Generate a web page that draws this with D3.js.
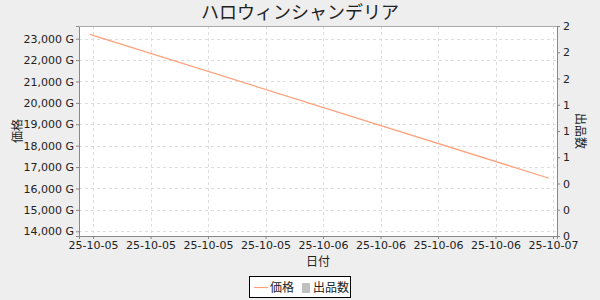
<!DOCTYPE html>
<html>
<head>
<meta charset="utf-8">
<script src="https://cdn.jsdelivr.net/npm/d3@7"></script>
<style>
  body { margin: 0; background: #eeeeee; }
  svg { display: block; }
  text { font-family: "DejaVu Sans", sans-serif; }
  .jp { font-family: "Noto Sans CJK JP", sans-serif; }
</style>
</head>
<body>
<div id="chart"></div>
<script>
const w = 600,
      h = 300;
const margin = { top: 26, right: 43, bottom: 64, left: 79 };

// price series (date, G)
const priceDates = ['2025-10-04T23:40', '2025-10-06T23:35'];
const priceValues = [23200, 16480];
// listing count series has no points
const countDates = [];
const countValues = [];

const priceTicks = [14000, 15000, 16000, 17000, 18000, 19000, 20000, 21000, 22000, 23000];
const countTicks = [0, 0.25, 0.5, 0.75, 1, 1.25, 1.5, 1.75, 2];

const parse = d3.timeParse('%Y-%m-%dT%H:%M');
const data = priceDates.map((d, i) => ({ date: parse(d), value: priceValues[i] }));

const svg = d3.select('#chart')
  .append('svg')
  .attr('width', w)
  .attr('height', h);

svg.append('rect')
  .attr('width', w)
  .attr('height', h)
  .attr('fill', '#eeeeee');

const x0 = w - margin.right;
const y0 = h - margin.bottom;

const xScale = d3.scaleTime()
  .domain([parse('2025-10-04T22:32'), parse('2025-10-07T00:25')])
  .range([margin.left, x0]);

const yScale = d3.scaleLinear()
  .domain([13780, 23593])
  .range([y0, margin.top]);

const y2Scale = d3.scaleLinear()
  .domain([0, 2])
  .range([y0, margin.top]);

// plot area
svg.append('rect')
  .attr('x', margin.left)
  .attr('y', margin.top)
  .attr('width', x0 - margin.left)
  .attr('height', y0 - margin.top)
  .attr('fill', '#ffffff');

const xTicks = d3.timeHour.every(6).range(parse('2025-10-05T00:00'), parse('2025-10-07T00:01'));

// grid lines
svg.append('g')
  .selectAll('line')
  .data(xTicks)
  .enter()
  .append('line')
  .attr('x1', d => Math.round(xScale(d)) + 0.5)
  .attr('x2', d => Math.round(xScale(d)) + 0.5)
  .attr('y1', margin.top)
  .attr('y2', y0)
  .attr('stroke', '#dddddd')
  .attr('stroke-dasharray', '3,3');

svg.append('g')
  .selectAll('line')
  .data(priceTicks)
  .enter()
  .append('line')
  .attr('x1', margin.left)
  .attr('x2', x0)
  .attr('y1', d => Math.round(yScale(d)) + 0.5)
  .attr('y2', d => Math.round(yScale(d)) + 0.5)
  .attr('stroke', '#dddddd')
  .attr('stroke-dasharray', '3,3');

// half-even rounding, as the right axis labels show
const roundHalfEven = v => {
  const f = Math.floor(v), r = v - f;
  if (Math.abs(r - 0.5) < 1e-9) return f % 2 === 0 ? f : f + 1;
  return Math.round(v);
};

const fmtPrice = d => d3.format(',')(d) + ' G';

const xAxis = d3.axisBottom(xScale)
  .tickValues(xTicks)
  .tickFormat(d3.timeFormat('%y-%m-%d'))
  .tickSize(3)
  .tickPadding(2);
const yAxis = d3.axisLeft(yScale)
  .tickValues(priceTicks)
  .tickFormat(fmtPrice)
  .tickSize(3)
  .tickPadding(2);
const y2Axis = d3.axisRight(y2Scale)
  .tickValues(countTicks)
  .tickFormat(d => String(roundHalfEven(d)))
  .tickSize(3)
  .tickPadding(3);

const styleAxis = g => {
  g.select('.domain').attr('stroke', '#888888');
  g.selectAll('.tick line').attr('stroke', '#888888');
  g.selectAll('.tick text')
    .attr('fill', '#222222')
    .style('font-size', '11px')
    .style('font-family', '"DejaVu Sans", sans-serif');
};

svg.append('g')
  .attr('transform', `translate(0, ${y0})`)
  .call(xAxis)
  .call(styleAxis);

svg.append('g')
  .attr('transform', `translate(${margin.left}, 0)`)
  .call(yAxis)
  .call(styleAxis);

svg.append('g')
  .attr('transform', `translate(${x0}, 0)`)
  .call(y2Axis)
  .call(styleAxis);

// plot border top
svg.append('line')
  .attr('x1', margin.left)
  .attr('x2', x0)
  .attr('y1', margin.top + 0.5)
  .attr('y2', margin.top + 0.5)
  .attr('stroke', '#aaaaaa');

// price line
const line = d3.line()
  .x(d => xScale(d.date))
  .y(d => yScale(d.value));

svg.append('path')
  .datum(data)
  .attr('d', line)
  .attr('fill', 'none')
  .attr('stroke', '#ffa07a')
  .attr('stroke-width', 1.2);

// titles
svg.append('text')
  .attr('class', 'jp')
  .attr('x', w / 2)
  .attr('y', 19)
  .attr('text-anchor', 'middle')
  .style('font-size', '18px')
  .attr('fill', '#222222')
  .text('ハロウィンシャンデリア');

svg.append('text')
  .attr('class', 'jp')
  .attr('transform', `translate(22, ${(margin.top + y0) / 2}) rotate(-90)`)
  .attr('text-anchor', 'middle')
  .style('font-size', '12px')
  .attr('fill', '#222222')
  .text('価格');

svg.append('text')
  .attr('class', 'jp')
  .attr('transform', `translate(576, ${(margin.top + y0) / 2}) rotate(90)`)
  .attr('text-anchor', 'middle')
  .style('font-size', '12px')
  .attr('fill', '#222222')
  .text('出品数');

svg.append('text')
  .attr('class', 'jp')
  .attr('x', (margin.left + x0) / 2)
  .attr('y', 266)
  .attr('text-anchor', 'middle')
  .style('font-size', '12px')
  .attr('fill', '#222222')
  .text('日付');

// legend
const legend = svg.append('g').attr('transform', 'translate(249, 276)');
legend.append('rect')
  .attr('x', 0.5)
  .attr('y', 0.5)
  .attr('width', 101)
  .attr('height', 21)
  .attr('fill', '#ffffff')
  .attr('stroke', '#000000');
legend.append('line')
  .attr('x1', 5)
  .attr('x2', 19)
  .attr('y1', 11.5)
  .attr('y2', 11.5)
  .attr('stroke', '#ffa07a')
  .attr('stroke-width', 1.2);
legend.append('text')
  .attr('class', 'jp')
  .attr('x', 21)
  .attr('y', 16)
  .style('font-size', '12px')
  .attr('fill', '#222222')
  .text('価格');
legend.append('rect')
  .attr('x', 53)
  .attr('y', 7)
  .attr('width', 8)
  .attr('height', 10)
  .attr('fill', '#c0c0c0');
legend.append('text')
  .attr('class', 'jp')
  .attr('x', 64)
  .attr('y', 16)
  .style('font-size', '12px')
  .attr('fill', '#222222')
  .text('出品数');
</script>
</body>
</html>
